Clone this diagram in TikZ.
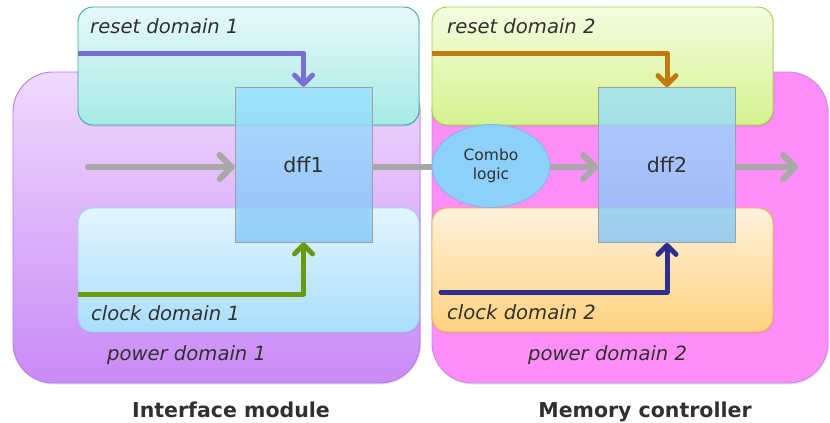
\documentclass[tikz,border=0pt]{standalone}
\usepackage{fontspec}
\setmainfont{DejaVu Sans}
\usetikzlibrary{arrows.meta,shapes.geometric,shadows}
\definecolor{pw1t}{HTML}{EFDAFD}
\definecolor{pw1b}{HTML}{C98AF6}
\definecolor{pw1d}{HTML}{B57BE8}
\definecolor{pw2f}{HTML}{FF8EF9}
\definecolor{pw2d}{HTML}{C58AF0}
\definecolor{rs1t}{HTML}{E6F9FA}
\definecolor{rs1b}{HTML}{A6EAE5}
\definecolor{rs1d}{HTML}{35A9A2}
\definecolor{ck1t}{HTML}{E3F5FF}
\definecolor{ck1b}{HTML}{A9DEFB}
\definecolor{ck1d}{HTML}{9AD4F2}
\definecolor{rs2t}{HTML}{F3FDDF}
\definecolor{rs2b}{HTML}{D5F38F}
\definecolor{rs2d}{HTML}{A6CF3E}
\definecolor{ck2t}{HTML}{FFF1DC}
\definecolor{ck2b}{HTML}{FFD27F}
\definecolor{ck2d}{HTML}{EFB13E}
\definecolor{dfft}{HTML}{9AE0FF}
\definecolor{dffb}{HTML}{7EC4F8}
\definecolor{dffd}{HTML}{A0A0A0}
\definecolor{cmbf}{HTML}{8DD0FA}
\definecolor{cmbd}{HTML}{7FB8E2}
\definecolor{grayarr}{HTML}{A8A8A8}
\definecolor{rstarrA}{HTML}{7B6FD2}
\definecolor{rstarrB}{HTML}{C07A10}
\definecolor{clkarrA}{HTML}{6B9A10}
\definecolor{clkarrB}{HTML}{2E2E8C}
\definecolor{txt}{HTML}{303030}
\begin{document}
\begin{tikzpicture}[x=1pt,y=-1pt,
  pwr/.style={rounded corners=40pt, line width=0.9pt,
    drop shadow={shadow xshift=1pt, shadow yshift=-1.5pt, opacity=0.2}},
  dom/.style={rounded corners=15pt, line width=0.9pt,
    drop shadow={shadow xshift=1pt, shadow yshift=-1.5pt, opacity=0.2}},
  lbl/.style={font=\fontsize{19.6}{22}\selectfont\itshape, text=txt, anchor=base west, inner sep=0pt},
  title/.style={font=\fontsize{20.5}{24}\selectfont\bfseries, text=txt, anchor=base, inner sep=0pt},
  dffbox/.style={draw=dffd, line width=0.8pt, top color=dfft, bottom color=dffb,
    fill opacity=0.76, text opacity=1, minimum width=137pt, minimum height=155pt,
    inner sep=0pt, font=\fontsize{20.5}{24}\selectfont, text=txt},
  gline/.style={draw=grayarr, line width=6pt, line cap=round},
  garrow/.style={gline, -{Straight Barb[length=12pt, width=24pt, round]}},
  carrow/.style={line width=5pt, line join=round, -{Straight Barb[length=9pt, width=18pt, round]}}
]
\useasboundingbox (0,0) rectangle (830,423);

% power domains
\draw[pwr, draw=pw1d, top color=pw1t, bottom color=pw1b] (13,72) rectangle (420,383);
\draw[pwr, draw=pw2d, fill=pw2f] (432,72) rectangle (828,383);

% reset and clock domains
\draw[dom, draw=rs1d, top color=rs1t, bottom color=rs1b] (78,7) rectangle (419,125);
\draw[dom, draw=ck1d, top color=ck1t, bottom color=ck1b] (78,208) rectangle (419,332);
\draw[dom, draw=rs2d, top color=rs2t, bottom color=rs2b] (432,7) rectangle (773,125);
\draw[dom, draw=ck2d, top color=ck2t, bottom color=ck2b] (432,208) rectangle (773,332);

% labels
\node[lbl] (lr1) at (90,33) {reset domain 1};
\node[lbl] (lc1) at (91,320) {clock domain 1};
\node[lbl] (lp1) at (107,360) {power domain 1};
\node[lbl] (lr2) at (447,33) {reset domain 2};
\node[lbl] (lc2) at (447,319) {clock domain 2};
\node[lbl] (lp2) at (528,360) {power domain 2};
\node[title] (t1) at (231,417) {Interface module};
\node[title] (t2) at (645,417) {Memory controller};

% logic
\node[dffbox] (dff1) at (303.5,164.5) {dff1};
\node[dffbox] (dff2) at (667,165) {dff2};
\node[ellipse, draw=cmbd, line width=0.8pt, fill=cmbf, minimum width=118pt, minimum height=83pt,
  inner sep=0pt, align=center, font=\fontsize{15.5}{19}\selectfont, text=txt] (combo) at (491,166) {Combo\\logic};

% data path
\coordinate (din) at (88,167);
\coordinate (dout) at (798,167);
\draw[garrow] (din) -- (din -| dff1.west);
\draw[gline, line cap=butt] (dff1.east |- din) -- (combo.west |- din);
\draw[garrow, line cap=butt] (combo.east |- din) -- (dff2.west |- din);
\draw[garrow, line cap=butt] (dff2.east |- dout) -- (dout);

% reset and clock arrows
\coordinate (r1) at (78,53);
\coordinate (c1) at (78,294);
\coordinate (r2) at (432,53);
\coordinate (c2) at (441,292);
\draw[carrow, draw=rstarrA, line cap=butt] (r1) -| (dff1.north);
\draw[carrow, draw=clkarrA, line cap=butt] (c1) -| (dff1.south);
\draw[carrow, draw=rstarrB, line cap=butt] (r2) -| (dff2.north);
\draw[carrow, draw=clkarrB, line cap=round] (c2) -| (dff2.south);
\end{tikzpicture}
\end{document}
